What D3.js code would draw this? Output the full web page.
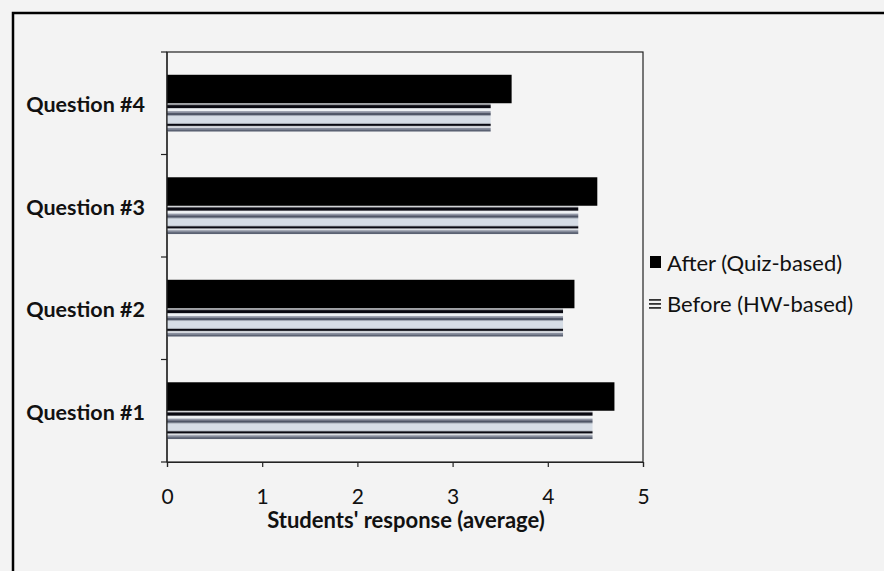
<!DOCTYPE html>
<html><head><meta charset="utf-8">
<script src="https://cdn.jsdelivr.net/npm/d3@7"></script>
<style>
html,body{margin:0;padding:0;background:#f3f3f3;}
svg{display:block;}
text{font-family:Lato, "Open Sans", sans-serif;fill:#111;}
</style></head>
<body>
<svg id="chart" width="884" height="571"></svg>
<script>
const categories = ["Question #1", "Question #2", "Question #3", "Question #4"];
const afterValues = [4.70, 4.28, 4.52, 3.62];
const beforeValues = [4.47, 4.16, 4.32, 3.40];
const seriesNames = ["After (Quiz-based)", "Before (HW-based)"];
const xTicks = [0, 1, 2, 3, 4, 5];
const xTitle = "Students' response (average)";

const svg = d3.select("#chart");
const W = 884, H = 571;
const m = {left: 167, top: 52, right: 643, bottom: 462};

// outer frame
svg.append("rect").attr("x", 13).attr("y", 13).attr("width", W + 10).attr("height", H + 10)
  .attr("fill", "#f3f3f3").attr("stroke", "#000").attr("stroke-width", 2.5);

const x = d3.scaleLinear().domain([0, 5]).range([m.left, m.right]);
const y = d3.scaleBand().domain(categories.slice().reverse()).range([m.top, m.bottom]);
const inner = d3.scaleBand().domain(["after", "before"]).range([0, y.bandwidth()]).paddingInner(0).paddingOuter(0.8);
const bh = inner.bandwidth();

// stripe pattern (one bar height tall, aligned to each bar's top)
const defs = svg.append("defs");
const pat = defs.append("pattern").attr("id", "stripes").attr("patternUnits", "userSpaceOnUse")
  .attr("width", 10).attr("height", bh);
const stripes = [
  [0, 1.5, "#f0f2f4"], [1.5, 5, "#080810"], [5, 8, "#eef1f4"], [8, 9.5, "#8a90a0"], [9.5, 12, "#4e5566"],
  [12, 13, "#9aa0ae"], [13, 20.5, "#d6dde6"], [20.5, 23, "#0a0a12"], [23, 24.5, "#eef1f4"],
  [24.5, 26, "#8a90a0"], [26, 28.5, "#5a6172"]
];
pat.append("rect").attr("width", 10).attr("height", bh).attr("fill", "#dfe4ea");
stripes.forEach(([a, b, c]) => pat.append("rect").attr("y", a * bh / 28.5).attr("width", 10)
  .attr("height", (b - a) * bh / 28.5).attr("fill", c));

// plot frame
svg.append("rect").attr("x", m.left).attr("y", m.top).attr("width", m.right - m.left).attr("height", m.bottom - m.top)
  .attr("fill", "#f4f4f4").attr("stroke", "#222").attr("stroke-width", 1.2);

const data = categories.map((c, i) => ({c, after: afterValues[i], before: beforeValues[i]}));

svg.append("g").selectAll("g").data(data).join("g")
  .attr("transform", d => `translate(${x(0)},${y(d.c) + inner("before")})`)
  .append("rect").attr("x", 0).attr("y", 0)
  .attr("width", d => x(d.before) - x(0)).attr("height", bh)
  .attr("fill", "url(#stripes)");
svg.append("g").selectAll("rect").data(data).join("rect")
  .attr("x", x(0)).attr("y", d => y(d.c) + inner("after"))
  .attr("width", d => x(d.after) - x(0)).attr("height", bh)
  .attr("fill", "#000");

// x axis
const xAxis = d3.axisBottom(x).tickValues(xTicks).tickSize(5).tickPadding(22).tickFormat(d3.format("d"));
const gx = svg.append("g").attr("transform", `translate(0,${m.bottom})`).call(xAxis);
gx.select(".domain").attr("stroke", "#222").attr("stroke-width", 1.2);
gx.selectAll(".tick line").attr("stroke", "#222").attr("stroke-width", 1.2);
gx.selectAll("text").attr("font-size", 21).attr("fill", "#111").attr("font-family", "Lato, sans-serif");

// y axis with ticks at category boundaries
const boundaries = d3.range(categories.length + 1).map(i => m.top + i * y.step());
svg.append("line").attr("x1", m.left).attr("x2", m.left).attr("y1", m.top).attr("y2", m.bottom)
  .attr("stroke", "#222").attr("stroke-width", 1.2);
svg.append("g").selectAll("line").data(boundaries).join("line")
  .attr("x1", m.left - 6).attr("x2", m.left).attr("y1", d => d).attr("y2", d => d)
  .attr("stroke", "#222").attr("stroke-width", 1.2);
svg.append("g").selectAll("text").data(categories).join("text")
  .attr("x", 145).attr("y", d => y(d) + y.bandwidth() / 2 + 1)
  .attr("text-anchor", "end").attr("dominant-baseline", "central")
  .attr("font-size", 21.5).attr("font-weight", "bold").text(d => d);

// x title
svg.append("text").attr("x", (m.left + m.right) / 2 + 1).attr("y", 528)
  .attr("text-anchor", "middle").attr("font-size", 22).attr("font-weight", "bold").text(xTitle);

// legend
const lg = svg.append("g");
lg.append("rect").attr("x", 650).attr("y", 256).attr("width", 11).attr("height", 12).attr("fill", "#000");
lg.append("text").attr("x", 667).attr("y", 262).attr("dominant-baseline", "central")
  .attr("font-size", 22).text(seriesNames[0]);
[0, 4, 8].forEach(dy => lg.append("rect").attr("x", 649).attr("y", 299 + dy).attr("width", 12).attr("height", 1.8).attr("fill", "#333"));
lg.append("text").attr("x", 667).attr("y", 303).attr("dominant-baseline", "central")
  .attr("font-size", 22).text(seriesNames[1]);
</script>
</body></html>
